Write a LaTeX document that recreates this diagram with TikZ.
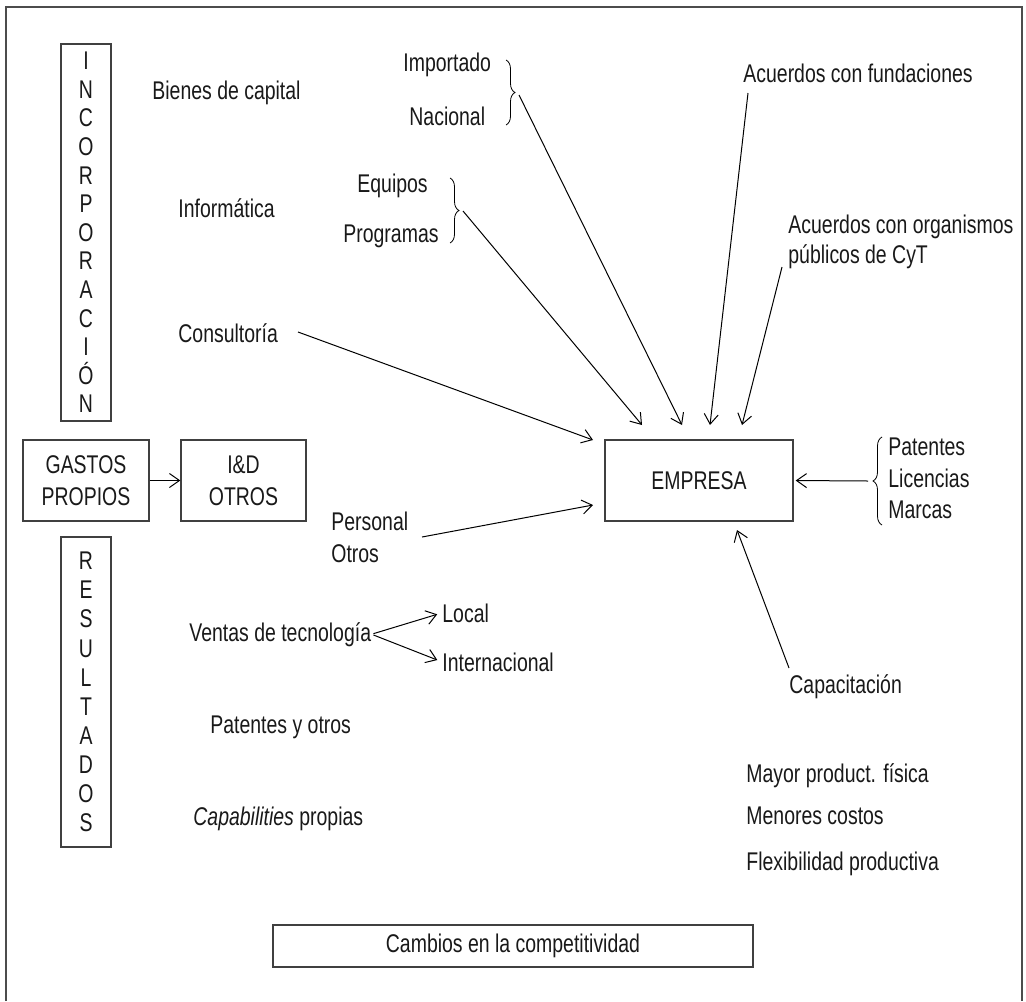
\documentclass[tikz,border=0pt]{standalone}
\usepackage{fontspec}
\setmainfont{Liberation Sans}[FakeStretch=0.76]
\usetikzlibrary{arrows.meta,decorations.pathreplacing}

\begin{document}
\begin{tikzpicture}[x=0.5pt,y=-0.5pt,
    every node/.style={font=\fontsize{12.8}{15}\selectfont, text=black!90, inner sep=0pt},
    txt/.style={anchor=base west},
    box/.style={draw=black!75, line width=0.7pt, align=center, font=\fontsize{12.8}{16}\selectfont},
    vbox/.style={box, text width=25pt, minimum width=25pt},
    arr/.style={-{Straight Barb[length=5pt,width=7pt]}, line width=0.5pt},
    brc/.style={decorate, decoration={brace, amplitude=4.5pt}, line width=0.4pt}]
    \useasboundingbox (0,0) rectangle (1026,1001);
    \draw[black!70, line width=1pt] (6,1001) -- (6,7) -- (1022,7) -- (1022,1001);

    \node[vbox, minimum height=188.5pt, font=\fontsize{12.8}{14.3}\selectfont] (incorporacion) at (86,232.5)
        {I\\N\\C\\O\\R\\P\\O\\R\\A\\C\\I\\Ó\\N};
    \node[vbox, minimum height=155pt, font=\fontsize{12.8}{14.55}\selectfont] (resultados) at (86,692)
        {R\\E\\S\\U\\L\\T\\A\\D\\O\\S};
    \node[box, minimum width=63pt, minimum height=40.5pt] (gastos) at (86,480.5) {GASTOS\\PROPIOS};
    \node[box, minimum width=62.5pt, minimum height=40.5pt] (iyd) at (243.5,480.5) {I\&D\\OTROS};
    \node[box, minimum width=94pt, minimum height=40.5pt] (empresa) at (699,480.5) {EMPRESA};
    \node[box, minimum width=240pt, minimum height=21pt] (cambios) at (513,946) {Cambios en la competitividad};

    \node[txt] (bienes) at (152,99.5) {Bienes de capital};
    \node[txt] (informatica) at (178,217) {Informática};
    \node[txt] (consultoria) at (178,342) {Consultoría};
    \node[txt] (importado) at (403,71) {Importado};
    \node[txt] (nacional) at (409,125) {Nacional};
    \node[txt] (equipos) at (357,192) {Equipos};
    \node[txt] (programas) at (343,242) {Programas};
    \node[txt] (fundaciones) at (743,82) {Acuerdos con fundaciones};
    \node[txt] (organismos) at (788,233) {Acuerdos con organismos};
    \node[txt] (publicos) at (788,263) {públicos de CyT};
    \node[txt] (personal) at (331,530) {Personal};
    \node[txt] (otros) at (331,562) {Otros};
    \node[txt] (patentes) at (888,455) {Patentes};
    \node[txt] (licencias) at (888,487) {Licencias};
    \node[txt] (marcas) at (888,518) {Marcas};
    \node[txt] (capacitacion) at (789,693) {Capacitación};
    \node[txt] (ventas) at (189,641) {Ventas de tecnología};
    \node[txt] (local) at (442,622) {Local};
    \node[txt] (internacional) at (442,671) {Internacional};
    \node[txt] (patotros) at (210,733) {Patentes y otros};
    \node[txt] (capabilities) at (193,825) {\textit{Capabilities} propias};
    \node[txt] (mayor) at (746,782) {Mayor product. física};
    \node[txt] (menores) at (746,824) {Menores costos};
    \node[txt] (flexibilidad) at (746,870) {Flexibilidad productiva};

    \draw[brc] (506,60) -- (506,125);
    \draw[brc] (450,178) -- (450,243);
    \draw[brc] (882,525) -- (882,437);
    \coordinate (impout) at (519,95);
    \coordinate (progout) at (463,211);
    \coordinate (patout) at (868,481);
    \coordinate (consout) at (298,332);
    \coordinate (fundout) at (748,93);
    \coordinate (orgout) at (782,267);
    \coordinate (persout) at (422,537);
    \coordinate (capout) at (789,668);
    \coordinate (consin) at (593,440);
    \coordinate (progin) at (642,425);
    \coordinate (impin) at (682,425);
    \coordinate (fundin) at (710,425);
    \coordinate (orgin) at (742,425);
    \coordinate (persin) at (593,505);
    \coordinate (capin) at (737,530);

    \draw[arr] (gastos) -- (iyd);
    \draw[arr] (consout) -- (consin);
    \draw[arr] (progout) -- (progin);
    \draw[arr] (impout) -- (impin);
    \draw[arr] (fundout) -- (fundin);
    \draw[arr] (orgout) -- (orgin);
    \draw[arr] (persout) -- (persin);
    \draw[arr] (capout) -- (capin);
    \draw[arr, shorten >=1pt] (patout) -- (empresa.east);
    \draw[arr, shorten <=1pt, shorten >=2.5pt] (ventas.east) -- (local.west);
    \draw[arr, shorten <=1pt, shorten >=2.5pt] (ventas.east) -- (internacional.west);
\end{tikzpicture}
\end{document}
